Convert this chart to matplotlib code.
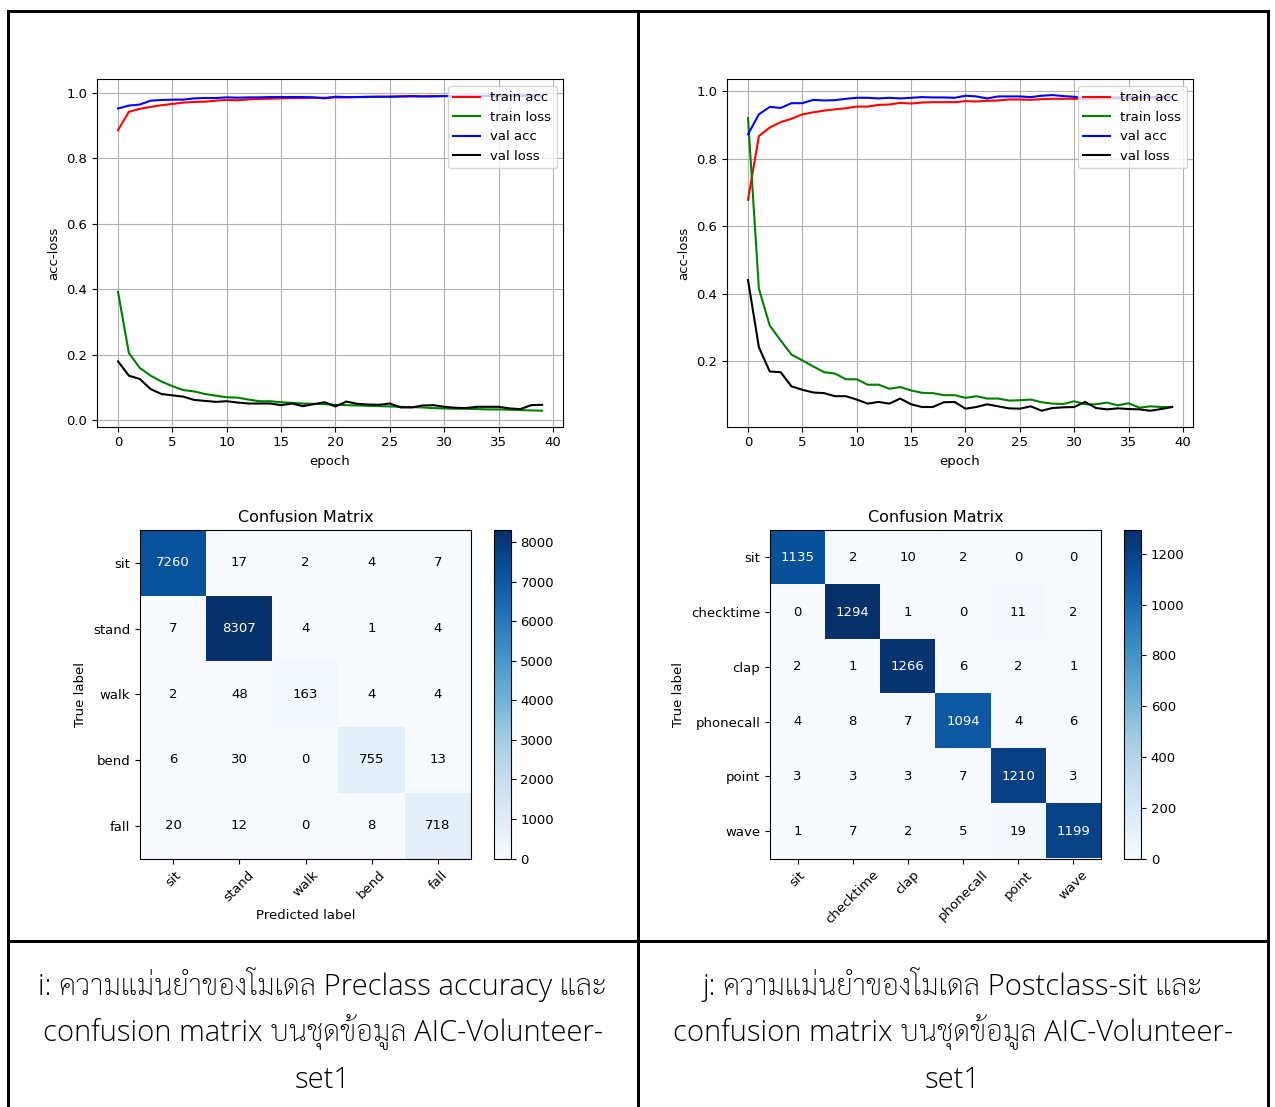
import matplotlib
matplotlib.use("Agg")
import numpy as np
import matplotlib.pyplot as plt
from matplotlib.lines import Line2D

# ---------------- training history: Preclass model ----------------
pre_train_acc = [0.886, 0.942, 0.951, 0.957, 0.962, 0.966, 0.970, 0.972, 0.973, 0.976,
                 0.978, 0.977, 0.980, 0.981, 0.982, 0.983, 0.984, 0.984, 0.985, 0.985,
                 0.986, 0.986, 0.987, 0.987, 0.988, 0.988, 0.989, 0.989, 0.989, 0.990,
                 0.990, 0.990, 0.991, 0.991, 0.991, 0.992, 0.992, 0.992, 0.993, 0.993]
pre_train_loss = [0.392, 0.205, 0.160, 0.136, 0.118, 0.104, 0.092, 0.088, 0.080, 0.075,
                  0.070, 0.069, 0.063, 0.058, 0.058, 0.055, 0.053, 0.051, 0.050, 0.049,
                  0.047, 0.046, 0.045, 0.044, 0.043, 0.042, 0.041, 0.040, 0.039, 0.037,
                  0.036, 0.035, 0.035, 0.034, 0.033, 0.033, 0.032, 0.031, 0.030, 0.029]
pre_val_acc = [0.952, 0.961, 0.964, 0.976, 0.978, 0.979, 0.979, 0.983, 0.984, 0.984,
               0.986, 0.985, 0.986, 0.986, 0.987, 0.987, 0.987, 0.987, 0.986, 0.983,
               0.988, 0.987, 0.987, 0.988, 0.988, 0.988, 0.989, 0.990, 0.989, 0.989,
               0.990, 0.990, 0.990, 0.991, 0.990, 0.991, 0.991, 0.991, 0.991, 0.991]
pre_val_loss = [0.180, 0.136, 0.126, 0.095, 0.080, 0.076, 0.072, 0.062, 0.059, 0.056,
                0.058, 0.054, 0.051, 0.051, 0.051, 0.046, 0.051, 0.043, 0.049, 0.055,
                0.042, 0.057, 0.050, 0.048, 0.047, 0.051, 0.039, 0.039, 0.045, 0.046,
                0.041, 0.038, 0.037, 0.041, 0.041, 0.041, 0.036, 0.034, 0.046, 0.047]

# ---------------- training history: Postclass-sit model ----------------
post_train_acc = [0.678, 0.867, 0.892, 0.908, 0.918, 0.931, 0.937, 0.942, 0.946, 0.949,
                  0.954, 0.954, 0.959, 0.960, 0.965, 0.963, 0.966, 0.967, 0.967, 0.967,
                  0.970, 0.969, 0.971, 0.972, 0.975, 0.975, 0.974, 0.976, 0.977, 0.977,
                  0.977, 0.975, 0.977, 0.978, 0.978, 0.979, 0.978, 0.979, 0.979, 0.980]
post_train_loss = [0.920, 0.415, 0.306, 0.262, 0.220, 0.203, 0.185, 0.168, 0.164, 0.147,
                   0.147, 0.131, 0.131, 0.119, 0.124, 0.114, 0.107, 0.106, 0.100, 0.100,
                   0.092, 0.097, 0.090, 0.090, 0.084, 0.085, 0.087, 0.079, 0.075, 0.074,
                   0.082, 0.073, 0.073, 0.078, 0.070, 0.076, 0.063, 0.067, 0.065, 0.065]
post_val_acc = [0.872, 0.931, 0.953, 0.950, 0.964, 0.964, 0.974, 0.972, 0.973, 0.977,
                0.980, 0.980, 0.978, 0.980, 0.978, 0.980, 0.982, 0.981, 0.981, 0.980,
                0.986, 0.984, 0.978, 0.984, 0.984, 0.984, 0.982, 0.986, 0.988, 0.985,
                0.983, 0.978, 0.981, 0.982, 0.981, 0.982, 0.983, 0.982, 0.983, 0.983]
post_val_loss = [0.441, 0.242, 0.170, 0.168, 0.126, 0.116, 0.108, 0.106, 0.097, 0.097,
                 0.087, 0.075, 0.080, 0.075, 0.090, 0.073, 0.065, 0.065, 0.079, 0.080,
                 0.060, 0.065, 0.073, 0.067, 0.061, 0.060, 0.067, 0.054, 0.062, 0.064,
                 0.065, 0.080, 0.062, 0.058, 0.061, 0.059, 0.058, 0.054, 0.059, 0.065]

# ---------------- confusion matrices ----------------
pre_classes = ["sit", "stand", "walk", "bend", "fall"]
pre_cm = [[7260, 17, 2, 4, 7],
          [7, 8307, 4, 1, 4],
          [2, 48, 163, 4, 4],
          [6, 30, 0, 755, 13],
          [20, 12, 0, 8, 718]]

post_classes = ["sit", "checktime", "clap", "phonecall", "point", "wave"]
post_cm = [[1135, 2, 10, 2, 0, 0],
           [0, 1294, 1, 0, 11, 2],
           [2, 1, 1266, 6, 2, 1],
           [4, 8, 7, 1094, 4, 6],
           [3, 3, 3, 7, 1210, 3],
           [1, 7, 2, 5, 19, 1199]]

captions = [
    ["i: ความแม่นยำของโมเดล Preclass accuracy และ",
     "confusion matrix บนชุดข้อมูล AIC-Volunteer-",
     "set1"],
    ["j: ความแม่นยำของโมเดล Postclass-sit และ",
     "confusion matrix บนชุดข้อมูล AIC-Volunteer-",
     "set1"],
]

W, H = 1275, 1107
plt.rcParams["font.size"] = 9.5
fig = plt.figure(figsize=(W / 100, H / 100), dpi=100)


def px_axes(x0, y0, x1, y1):
    return fig.add_axes([x0 / W, 1 - y1 / H, (x1 - x0) / W, (y1 - y0) / H])


def draw_history(ax, tr_acc, tr_loss, va_acc, va_loss):
    ep = np.arange(len(tr_acc))
    ax.plot(ep, tr_acc, color="r", lw=1.5, label="train acc")
    ax.plot(ep, tr_loss, color="g", lw=1.5, label="train loss")
    ax.plot(ep, va_acc, color="b", lw=1.5, label="val acc")
    ax.plot(ep, va_loss, color="k", lw=1.5, label="val loss")
    ax.grid(True, color="#b0b0b0", lw=0.8)
    ax.set_xticks(np.arange(0, 41, 5))
    ax.set_xlabel("epoch")
    ax.set_ylabel("acc-loss")
    ax.legend(loc="upper right")


def draw_cm(ax, cax, cm, classes, xlabel=True):
    cm = np.array(cm)
    im = ax.imshow(cm, interpolation="nearest", cmap=plt.cm.Blues, aspect="auto")
    ax.set_title("Confusion Matrix", fontsize=11.5)
    fig.colorbar(im, cax=cax)
    ticks = np.arange(len(classes))
    ax.set_xticks(ticks)
    ax.set_xticklabels(classes, rotation=45)
    ax.set_yticks(ticks)
    ax.set_yticklabels(classes)
    thresh = cm.max() / 2.0
    for i in range(cm.shape[0]):
        for j in range(cm.shape[1]):
            ax.text(j, i, format(cm[i, j], "d"), ha="center", va="center",
                    color="white" if cm[i, j] > thresh else "black")
    ax.set_ylabel("True label")
    if xlabel:
        ax.set_xlabel("Predicted label")


ax1 = px_axes(96.8, 79.3, 563.3, 426.5)
draw_history(ax1, pre_train_acc, pre_train_loss, pre_val_acc, pre_val_loss)
ax2 = px_axes(726.8, 79.3, 1193.3, 426.5)
draw_history(ax2, post_train_acc, post_train_loss, post_val_acc, post_val_loss)

cm1 = px_axes(140, 530, 471, 858.5)
cb1 = px_axes(494.3, 530, 510.7, 858.5)
draw_cm(cm1, cb1, pre_cm, pre_classes)
cm2 = px_axes(770, 530, 1101, 858.5)
cb2 = px_axes(1124.3, 530, 1141, 858.5)
draw_cm(cm2, cb2, post_cm, post_classes, xlabel=False)

# table borders
lw = 3 * 72 / 100


def hline(y, x0, x1):
    fig.add_artist(Line2D([x0 / W, x1 / W], [1 - y / H, 1 - y / H],
                          transform=fig.transFigure, color="black", lw=lw,
                          solid_capstyle="projecting"))


def vline(x, y0, y1):
    fig.add_artist(Line2D([x / W, x / W], [1 - y0 / H, 1 - y1 / H],
                          transform=fig.transFigure, color="black", lw=lw,
                          solid_capstyle="projecting"))


hline(10.5, 7.5, 1267.5)
hline(940.5, 7.5, 1267.5)
vline(7.5, 10.5, 1110)
vline(638, 10.5, 1110)
vline(1267.5, 10.5, 1110)

# captions: light humanist Latin with a light looped Thai face
cap_family = ["Open Sans", "Sarabun", "DejaVu Sans"]
for cx, lines in zip([323, 953], captions):
    for k, line in enumerate(lines):
        fig.text(cx / W, 1 - (985 + 47.5 * k) / H, line, ha="center", va="center",
                 fontsize=21, family=cap_family, fontweight="light")

fig.savefig("out.png", dpi=100)
